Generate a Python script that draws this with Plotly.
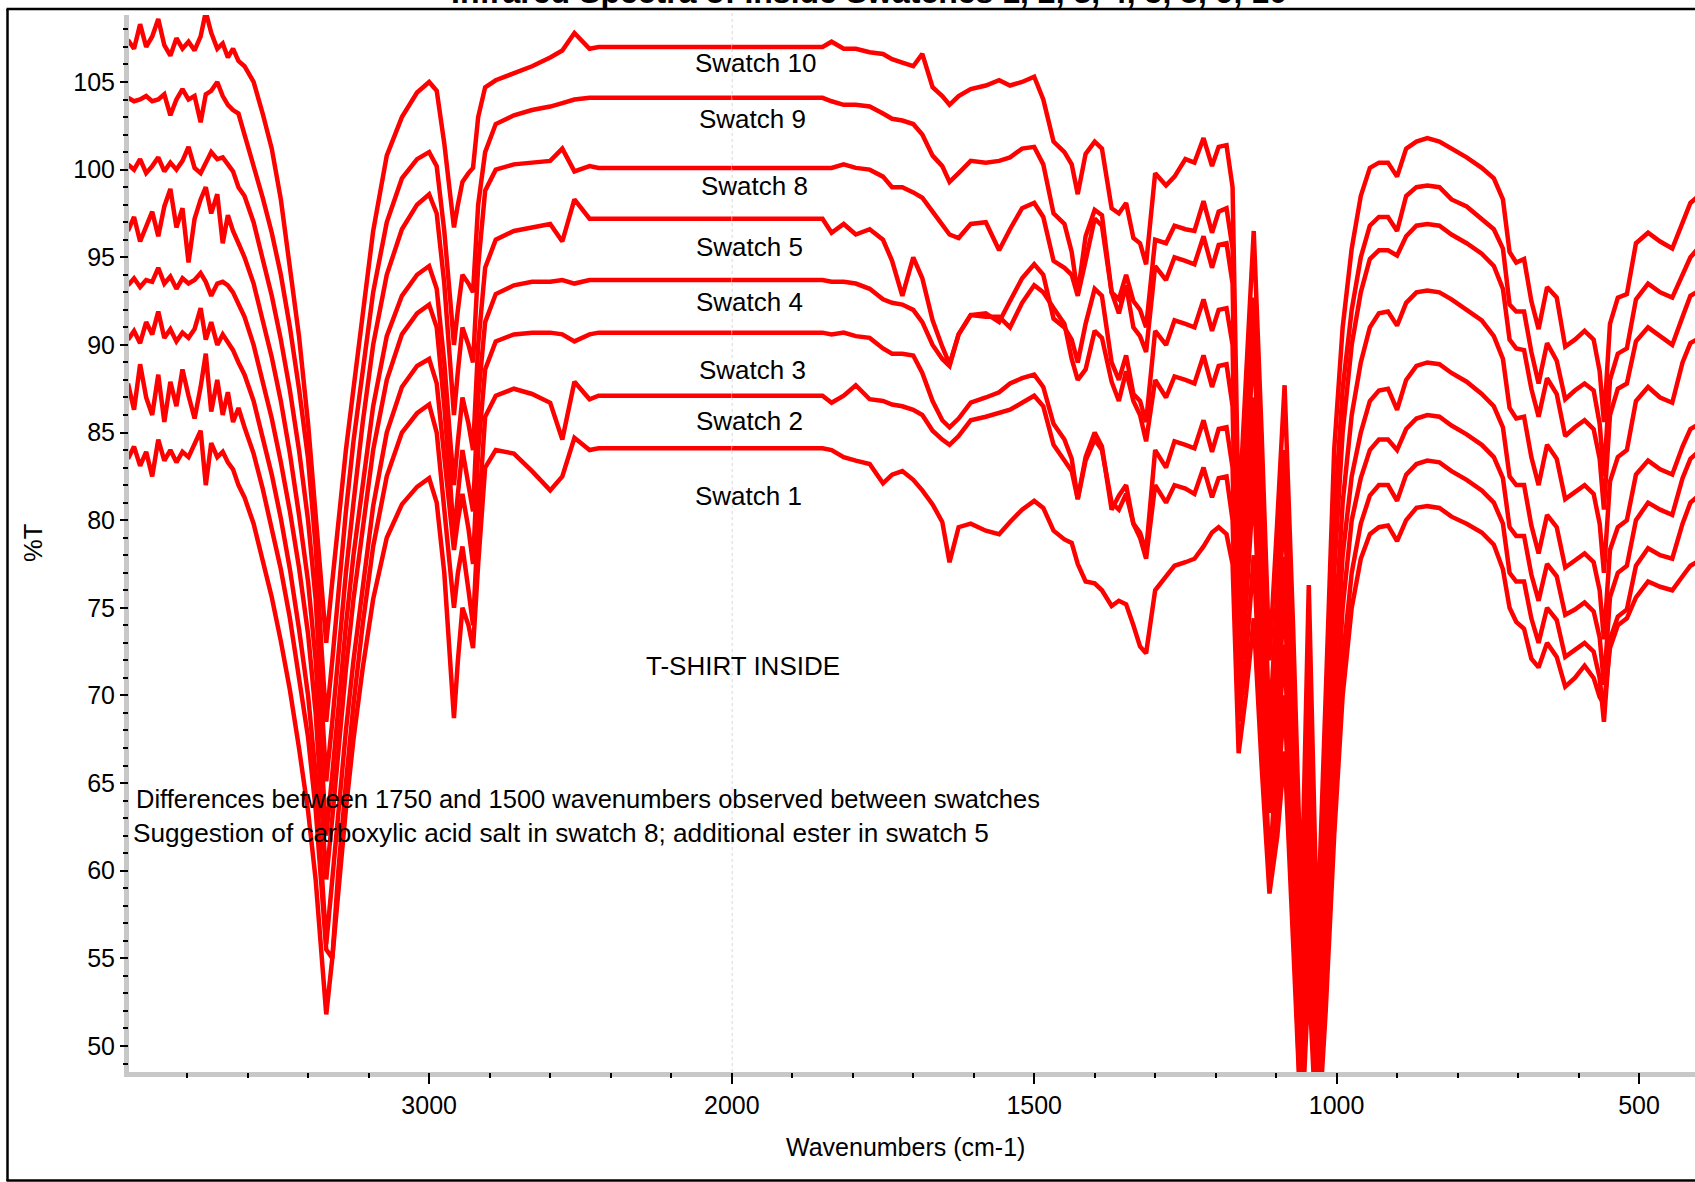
import plotly.graph_objects as go

# Shared wavenumber grid (cm-1), high to low
wavenumber = [
    3995, 3975, 3955, 3935, 3915, 3895, 3875, 3855, 3835, 3815,
    3795, 3775, 3755, 3738, 3720, 3700, 3682, 3665, 3648, 3630,
    3610, 3580, 3550, 3520, 3490, 3460, 3430, 3400, 3375, 3355,
    3340, 3320, 3300, 3275, 3250, 3220, 3185, 3140, 3090, 3040,
    3000, 2975, 2950, 2930, 2918, 2905, 2890, 2870, 2855, 2838,
    2815, 2780, 2720, 2660, 2600, 2560, 2520, 2470,
    2440, 2000, 1850,
    1835, 1815, 1795, 1772, 1750, 1735, 1718, 1700, 1685, 1668,
    1652, 1640, 1625, 1605, 1580, 1558, 1540, 1520, 1500, 1485,
    1468, 1450, 1438, 1428, 1415, 1400, 1388, 1372, 1360, 1348,
    1336, 1325, 1315, 1300, 1282, 1268,
    1250, 1235, 1220, 1206, 1195, 1182, 1172,
    1162, 1150, 1137, 1124, 1111, 1098, 1086, 1072, 1058, 1046,
    1032, 1018, 1004, 990, 975, 960, 945, 930, 915, 900,
    885, 868, 850, 830, 810, 785, 760, 740, 725, 714,
    703, 690, 678, 666, 652, 636, 622, 606, 590, 575,
    565, 558, 548, 535, 520, 505, 485, 465, 445, 428,
    415, 405,
]

swatch_10 = [
    107.4, 106.9, 108.3, 107.0, 107.6, 108.6, 107.1, 106.5, 107.5, 106.9,
    107.3, 106.8, 107.6, 109.0, 107.8, 106.9, 107.2, 106.4, 106.9, 106.2,
    105.9, 105.0, 103.2, 101.2, 98.3, 94.6, 90.5, 85.5, 80.0, 76.0,
    73.0, 76.5, 80.0, 84.0, 87.5, 91.5, 96.5, 100.8, 103.0, 104.4,
    105.0, 104.5, 101.5, 98.5, 96.7, 98.0, 99.3, 99.8, 100.1, 103.0,
    104.7, 105.1, 105.5, 105.9, 106.4, 106.8, 107.8, 106.9,
    107.0, 107.0, 107.0,
    107.3, 106.9, 106.9, 106.7, 106.6, 106.3, 106.1, 105.9, 106.6, 104.7,
    104.2, 103.7, 104.2, 104.6, 104.8, 105.1, 104.8, 105.0, 105.3, 104.0,
    101.6, 101.0, 100.3, 98.6, 100.9, 101.6, 101.2, 97.8, 97.5, 98.1,
    96.1, 95.8, 94.6, 99.8, 99.1, 99.6,
    100.6, 100.4, 101.8, 100.2, 101.3, 101.4, 99.0,
    80.0, 88.0, 96.5, 85.0, 72.0, 80.0, 87.7, 74.0, 58.0, 76.3,
    56.0, 70.0, 84.0, 91.0, 95.5, 98.5, 100.1, 100.4, 100.4, 99.6,
    101.2, 101.6, 101.8, 101.6, 101.2, 100.7, 100.1, 99.5, 98.3, 95.3,
    94.7, 94.9, 92.5, 90.9, 93.3, 92.7, 89.9, 90.3, 90.8, 90.3,
    88.5, 85.6, 91.2, 92.7, 92.9, 95.8, 96.4, 95.9, 95.5, 97.0,
    98.1, 98.4,
]

swatch_9 = [
    104.1, 103.9, 104.0, 104.2, 103.9, 104.0, 104.3, 103.1, 104.0, 104.6,
    104.0, 104.2, 102.7, 104.3, 104.5, 105.0, 104.2, 103.7, 103.4, 103.2,
    102.0, 100.3, 98.4, 96.4, 94.0, 91.0, 87.5, 83.5, 78.5, 72.5,
    68.5, 72.0, 76.0, 80.5, 84.5, 88.5, 93.0, 97.0, 99.5, 100.6,
    101.0, 100.2, 96.5, 92.5, 90.0, 92.0, 94.0, 93.5, 93.0, 98.0,
    101.0, 102.6, 103.1, 103.4, 103.6, 103.8, 104.0, 104.1,
    104.1, 104.1, 104.1,
    103.9, 103.7, 103.7, 103.6, 103.2, 102.9, 102.8, 102.6, 102.0, 100.8,
    100.2, 99.3, 99.8, 100.5, 100.4, 100.5, 100.7, 101.2, 101.3, 100.3,
    97.5, 96.9, 95.3, 92.9, 96.2, 97.7, 97.4, 93.0, 92.6, 94.0,
    92.5, 92.0, 91.0, 96.0, 95.8, 96.8,
    96.6, 96.5, 98.2, 96.4, 97.6, 97.8, 95.5,
    76.5, 84.0, 92.7, 81.0, 68.0, 76.0, 84.0, 70.0, 54.0, 72.0,
    52.0, 66.0, 80.0, 87.5, 92.0, 95.0, 96.8, 97.3, 97.3, 96.5,
    98.5, 99.0, 99.1, 99.0, 98.3, 97.9, 97.2, 96.6, 95.5, 92.3,
    91.9, 91.9, 89.6, 87.8, 90.1, 89.1, 86.9, 87.4, 87.8, 87.4,
    85.5, 82.5, 88.0, 89.5, 89.8, 92.6, 93.5, 93.0, 92.7, 94.0,
    95.0, 95.4,
]

swatch_8 = [
    100.3, 100.0, 100.6, 99.8, 100.2, 100.7, 99.9, 100.4, 100.0, 100.5,
    101.3, 100.1, 99.8, 100.4, 101.0, 100.6, 100.7, 100.3, 99.9, 99.0,
    98.5, 97.0, 95.0, 92.8, 90.3, 87.4, 84.0, 80.0, 75.5, 69.5,
    65.1, 68.5, 72.5, 77.0, 81.0, 85.5, 90.0, 94.0, 96.6, 98.0,
    98.6, 97.5, 93.5, 89.0, 86.0, 88.5, 91.0, 90.0, 89.0, 94.5,
    98.8, 100.0, 100.3, 100.4, 100.5, 101.2, 99.9, 100.2,
    100.1, 100.1, 100.1,
    100.1, 100.3, 100.1, 100.0, 99.6, 99.0, 99.0, 98.7, 98.4, 97.6,
    96.8, 96.3, 96.1, 96.9, 97.0, 95.4, 96.6, 97.8, 98.1, 97.3,
    94.8, 94.4, 94.0, 92.8, 94.8, 97.2, 96.8, 93.0, 91.8, 93.4,
    91.0, 90.5, 89.6, 94.5, 93.7, 95.0,
    94.8, 94.6, 96.2, 94.4, 95.7, 95.8, 93.5,
    74.5, 82.0, 90.5, 79.0, 66.0, 74.0, 81.0, 67.0, 52.0, 69.0,
    50.0, 63.0, 77.0, 85.0, 90.0, 93.0, 94.9, 95.4, 95.4, 95.1,
    96.2, 96.8, 96.9, 96.8, 96.3, 95.8, 95.2, 94.5, 93.2, 90.3,
    89.8, 89.7, 87.5, 85.9, 88.1, 87.2, 84.8, 85.3, 85.7, 85.2,
    83.5, 80.6, 86.0, 87.5, 87.8, 90.2, 91.0, 90.5, 90.0, 91.6,
    92.8, 93.0,
]

swatch_5 = [
    96.5, 97.3, 95.9, 96.8, 97.6, 96.2, 97.9, 98.9, 96.7, 97.8,
    94.7, 97.2, 98.3, 99.0, 97.5, 98.6, 95.8, 97.4, 96.5, 95.8,
    95.0, 93.5, 91.5, 89.3, 86.8, 83.8, 80.3, 76.5, 72.0, 66.5,
    62.0, 65.5, 69.5, 74.0, 78.0, 82.0, 86.5, 90.5, 92.8, 94.0,
    94.5, 93.2, 89.0, 84.5, 82.0, 84.5, 87.0, 85.5, 84.0, 90.0,
    94.4, 96.0, 96.5, 96.7, 96.9, 95.9, 98.3, 97.2,
    97.2, 97.2, 97.2,
    96.4, 96.9, 96.3, 96.6, 96.0, 94.8, 92.8, 95.0, 93.8, 91.4,
    89.9, 88.9, 90.6, 91.7, 91.8, 91.3, 92.5, 93.8, 94.6, 94.0,
    91.5, 91.0, 90.3, 89.0, 91.2, 93.2, 92.8, 89.0, 88.0, 89.4,
    87.2, 86.8, 85.6, 90.8, 90.0, 91.4,
    91.2, 91.0, 92.6, 90.8, 92.0, 92.1, 90.0,
    72.5, 79.0, 87.0, 76.0, 64.0, 71.0, 77.9, 64.0, 49.0, 66.0,
    47.0, 60.0, 73.0, 81.0, 86.0, 89.0, 91.0, 91.8, 91.9, 91.1,
    92.4, 93.0, 93.1, 93.0, 92.6, 92.0, 91.4, 90.5, 89.2, 86.4,
    85.8, 85.9, 83.6, 82.0, 84.3, 83.5, 81.2, 81.6, 82.0, 81.5,
    79.8, 77.0, 82.2, 83.6, 84.0, 86.8, 87.6, 87.0, 86.7, 89.0,
    90.1, 90.3,
]

swatch_4 = [
    93.4, 93.8, 93.3, 93.7, 93.6, 94.4, 93.5, 93.9, 93.2, 93.8,
    93.5, 93.7, 94.1, 93.6, 92.8, 93.5, 93.6, 93.4, 93.0, 92.4,
    91.6, 90.0, 88.0, 85.8, 83.3, 80.5, 77.3, 73.5, 69.0, 63.5,
    59.5, 63.0, 67.0, 71.5, 75.5, 79.5, 84.0, 88.0, 90.6, 91.8,
    92.3, 91.0, 86.5, 82.0, 79.0, 81.5, 84.0, 82.0, 80.5, 87.0,
    91.3, 92.9, 93.4, 93.6, 93.6, 93.7, 93.5, 93.7,
    93.7, 93.7, 93.7,
    93.6, 93.6, 93.5, 93.2, 92.6, 92.4, 92.3, 92.0, 91.3, 90.0,
    89.2, 88.8, 90.6, 91.7, 91.6, 91.6, 91.0, 92.4, 93.4, 93.0,
    92.1, 91.2, 89.2, 88.0, 88.6, 90.8, 90.4, 87.9, 86.8, 88.5,
    86.8, 86.0, 84.5, 88.0, 87.0, 88.2,
    88.0, 87.8, 89.4, 87.6, 88.8, 88.9, 86.5,
    71.0, 77.0, 84.5, 74.0, 63.3, 69.0, 76.0, 62.0, 47.0, 63.0,
    46.0, 58.0, 70.0, 78.0, 82.5, 85.0, 86.8, 87.4, 87.5, 86.3,
    88.0, 88.8, 89.0, 88.9, 88.4, 87.9, 87.2, 86.5, 85.3, 82.5,
    82.0, 82.0, 79.7, 78.1, 80.3, 79.6, 77.3, 77.7, 78.1, 77.6,
    76.0, 73.2, 78.3, 79.6, 80.0, 82.6, 83.4, 82.9, 82.6, 84.2,
    85.2, 85.4,
]

swatch_3 = [
    90.3, 90.8, 90.1, 91.3, 90.6, 91.9, 90.4, 90.9, 90.2, 90.7,
    90.4, 90.9, 92.1, 90.3, 91.3, 90.0, 90.6, 90.2, 89.7, 89.0,
    88.3, 86.8, 84.8, 82.6, 80.1, 77.2, 73.8, 70.0, 65.5, 60.0,
    55.8, 59.5, 63.5, 68.0, 72.0, 76.3, 80.8, 85.0, 87.6, 88.8,
    89.2, 87.8, 83.5, 80.5, 78.3, 80.0, 81.5, 79.5, 77.5, 84.0,
    88.6, 90.2, 90.6, 90.7, 90.7, 90.6, 90.2, 90.6,
    90.7, 90.7, 90.7,
    90.6, 90.7, 90.5, 90.4, 89.8, 89.5, 89.5, 89.4, 88.4, 86.8,
    85.7, 85.3, 85.8, 86.7, 87.0, 87.3, 87.8, 88.1, 88.3, 87.6,
    85.5, 84.6, 83.5, 81.2, 83.6, 85.0, 84.2, 80.6, 81.4, 82.0,
    79.8, 79.3, 78.2, 84.0, 83.0, 84.5,
    84.3, 84.1, 85.7, 83.9, 85.2, 85.3, 83.0,
    69.0, 75.0, 82.3, 71.0, 60.0, 67.0, 72.9, 60.0, 46.0, 60.0,
    45.0, 56.0, 67.0, 75.0, 80.0, 82.4, 84.0, 84.6, 84.6, 84.0,
    85.2, 85.8, 86.0, 85.9, 85.4, 84.9, 84.3, 83.6, 82.4, 79.6,
    79.1, 79.1, 76.9, 75.4, 77.5, 76.8, 74.6, 74.9, 75.3, 74.8,
    73.3, 70.6, 75.6, 77.0, 77.4, 80.0, 81.0, 80.6, 80.3, 82.4,
    83.5, 83.8,
]

swatch_2 = [
    87.8, 86.3, 88.9, 87.0, 86.0, 88.3, 85.6, 87.9, 86.5, 88.6,
    87.1, 85.8, 87.6, 89.5, 86.2, 88.0, 86.0, 87.3, 85.6, 86.4,
    85.3, 83.8, 81.8, 79.6, 77.2, 74.4, 71.2, 67.6, 63.5, 58.5,
    55.5, 55.0, 60.0, 65.0, 69.5, 74.0, 78.5, 82.5, 85.0, 86.1,
    86.6, 85.0, 80.5, 77.5, 75.0, 77.0, 78.5, 76.0, 74.0, 80.0,
    85.9, 87.1, 87.5, 87.2, 86.7, 84.6, 87.9, 86.9,
    87.1, 87.1, 87.1,
    86.7, 87.1, 87.7, 86.9, 86.8, 86.6, 86.5, 86.3, 86.0, 85.1,
    84.6, 84.3, 84.8, 85.7, 85.9, 86.1, 86.3, 86.7, 87.1, 86.5,
    84.3, 83.4, 82.8, 81.2, 83.4, 84.6, 84.0, 81.0, 80.6, 81.5,
    79.8, 79.0, 77.8, 82.0, 81.0, 82.0,
    81.8, 81.5, 83.0, 81.3, 82.4, 82.5, 80.0,
    68.5, 72.0, 78.0, 68.0, 60.0, 64.0, 70.0, 58.0, 45.0, 57.0,
    44.0, 54.0, 64.0, 72.0, 77.0, 79.8, 81.4, 82.0, 82.0, 81.1,
    82.6, 83.2, 83.4, 83.3, 82.8, 82.3, 81.7, 81.0, 79.8, 77.0,
    76.5, 76.5, 74.4, 73.0, 75.0, 74.3, 72.2, 72.6, 73.0, 72.5,
    71.0, 68.5, 73.2, 74.5, 74.9, 77.4, 78.4, 78.0, 77.8, 79.8,
    81.0, 81.3,
]

swatch_1 = [
    83.5, 84.2, 83.1, 83.9, 82.5, 84.6, 83.4, 84.0, 83.3, 83.9,
    83.6, 84.3, 85.1, 82.0, 84.4, 83.6, 83.9, 83.3, 82.9, 82.0,
    81.3, 79.8, 77.8, 75.6, 73.1, 70.3, 67.0, 63.4, 59.5, 55.0,
    51.8, 55.0, 59.0, 63.5, 67.5, 71.5, 75.5, 79.0, 80.9, 81.9,
    82.4, 81.0, 77.0, 72.0, 68.7, 72.0, 75.0, 74.0, 72.7, 77.5,
    83.0, 84.0, 83.8, 82.8, 81.7, 82.5, 84.7, 84.0,
    84.1, 84.1, 84.1,
    84.0, 83.6, 83.4, 83.2, 82.1, 82.6, 82.8, 82.3, 81.7, 80.9,
    79.9, 77.6, 79.6, 79.8, 79.4, 79.2, 79.9, 80.6, 81.1, 80.7,
    79.4, 78.9, 78.7, 77.5, 76.5, 76.4, 76.0, 75.1, 75.4, 75.2,
    74.0, 72.8, 72.4, 76.0, 76.8, 77.4,
    77.6, 77.8, 78.5, 79.3, 79.6, 79.2, 77.5,
    66.7, 70.0, 74.4, 66.0, 58.7, 62.0, 66.8, 56.0, 45.0, 54.0,
    44.0, 52.0, 62.0, 70.0, 75.0, 77.8, 79.2, 79.6, 79.7, 78.8,
    80.0, 80.7, 80.8, 80.7, 80.2, 79.8, 79.3, 78.6, 77.2, 75.0,
    74.2, 73.8, 72.1, 71.6, 73.0, 72.2, 70.5, 71.0, 71.7, 71.0,
    69.9, 69.5, 72.7, 74.0, 74.4, 75.6, 76.5, 76.2, 76.0, 76.8,
    77.4, 77.6,
]

series_names = ["Swatch 10", "Swatch 9", "Swatch 8", "Swatch 5",
                "Swatch 4", "Swatch 3", "Swatch 2", "Swatch 1"]
series_values = [swatch_10, swatch_9, swatch_8, swatch_5,
                 swatch_4, swatch_3, swatch_2, swatch_1]

y_ticks = [50, 55, 60, 65, 70, 75, 80, 85, 90, 95, 100, 105]
x_ticks_high = [3000]
x_ticks_low = [2000, 1500, 1000, 500]

for vals in series_values:
    assert len(vals) == len(wavenumber), len(vals)

# ---- page geometry (pixels) ----
W_PX, H_PX = 1695, 1182
M_L, M_R, M_T, M_B = 129, 0, 15, 110
PLOT_W = W_PX - M_L - M_R
PLOT_H = H_PX - M_T - M_B


def px_x(p):
    return (p - M_L) / PLOT_W


def px_y(p):
    return (H_PX - M_B - p) / PLOT_H


SPLIT = px_x(731.8)           # where 2000 cm-1 sits; scale doubles below it
RED = "#ff0000"
FONT = "Liberation Sans, Arial, sans-serif"

fig = go.Figure()
for name, vals in zip(series_names, series_values):
    hi = [(w, v) for w, v in zip(wavenumber, vals) if w >= 2000]
    lo = [(w, v) for w, v in zip(wavenumber, vals) if w <= 2000]
    for pts, xa in ((hi, "x"), (lo, "x2")):
        fig.add_trace(go.Scatter(
            x=[p[0] for p in pts], y=[p[1] for p in pts],
            xaxis=xa, yaxis="y", mode="lines", name=name,
            line=dict(color=RED, width=4.5), showlegend=False,
            hoverinfo="skip"))

tick_font = dict(family=FONT, size=25, color="black")
common_x = dict(ticks="outside", ticklen=11, tickwidth=1.5, tickcolor="black",
                showgrid=False, zeroline=False, showline=False,
                tickfont=tick_font, anchor="y", fixedrange=True,
                ticklabelstandoff=0)

fig.update_layout(
    width=W_PX, height=H_PX,
    margin=dict(l=M_L, r=M_R, t=M_T, b=M_B, pad=0),
    paper_bgcolor="white", plot_bgcolor="white",
    showlegend=False,
    xaxis=dict(domain=[0, SPLIT], range=[3991.7, 2000],
               tickmode="array", tickvals=x_ticks_high,
               ticktext=[str(t) for t in x_ticks_high],
               minor=dict(tickmode="array",
                          tickvals=[3800, 3600, 3400, 3200, 2800, 2600, 2400, 2200],
                          ticks="outside", ticklen=5, tickwidth=1.5,
                          tickcolor="black"),
               **common_x),
    xaxis2=dict(domain=[SPLIT, 1], range=[2000, 407.4],
                tickmode="array", tickvals=x_ticks_low,
                ticktext=[str(t) for t in x_ticks_low],
                minor=dict(tickmode="array",
                           tickvals=[w for w in range(1900, 400, -100) if w % 500],
                           ticks="outside", ticklen=5, tickwidth=1.5,
                           tickcolor="black"),
                **common_x),
    yaxis=dict(domain=[0, 1], range=[48.515, 108.823], anchor="x",
               tickmode="array", tickvals=y_ticks,
               ticktext=[str(t) for t in y_ticks],
               ticks="outside", ticklen=8, tickwidth=1.5, tickcolor="black",
               minor=dict(dtick=1, tick0=0, ticks="outside", ticklen=5,
                          tickwidth=1.5, tickcolor="black"),
               showgrid=False, zeroline=False, showline=False,
               tickfont=tick_font, fixedrange=True),
)

shapes = [
    # grey axis bands
    dict(type="rect", xref="paper", yref="paper", layer="below",
         x0=px_x(124), x1=px_x(129), y0=px_y(1077), y1=1,
         fillcolor="#c8c8c8", line=dict(width=0)),
    dict(type="rect", xref="paper", yref="paper", layer="below",
         x0=px_x(124), x1=1, y0=px_y(1077), y1=0,
         fillcolor="#c8c8c8", line=dict(width=0)),
    # dotted marker at 2000 cm-1
    dict(type="line", xref="x2", yref="paper", x0=2000, x1=2000,
         y0=0, y1=px_y(13), layer="above",
         line=dict(color="#a8a8a8", width=1, dash="dot")),
    # outer frame
    dict(type="line", xref="paper", yref="paper", x0=px_x(6.5), x1=px_x(1700),
         y0=px_y(9), y1=px_y(9), line=dict(color="black", width=2.5)),
    dict(type="line", xref="paper", yref="paper", x0=px_x(7.5), x1=px_x(7.5),
         y0=px_y(9), y1=px_y(1181), line=dict(color="black", width=2.5)),
    dict(type="line", xref="paper", yref="paper", x0=px_x(6.5), x1=px_x(1700),
         y0=px_y(1180.5), y1=px_y(1180.5), line=dict(color="black", width=2.5)),
]
fig.update_layout(shapes=shapes)

label_pos = {
    "Swatch 10": (755, 62.5), "Swatch 9": (752, 119.5), "Swatch 8": (754.5, 186),
    "Swatch 5": (749.5, 246.5), "Swatch 4": (749.5, 302), "Swatch 3": (752, 369.5),
    "Swatch 2": (749.5, 421), "Swatch 1": (748, 496),
}
ann = []
for name in series_names:
    px, py = label_pos[name]
    ann.append(dict(text=name, x=px_x(px), y=px_y(py), xref="paper", yref="paper",
                    xanchor="center", yanchor="middle", showarrow=False,
                    font=dict(family=FONT, size=26, color="black")))

ann += [
    dict(text="T-SHIRT INSIDE", x=px_x(743), y=px_y(665.5), xref="paper", yref="paper",
         xanchor="center", yanchor="middle", showarrow=False,
         font=dict(family=FONT, size=26, color="black")),
    dict(text="Differences between 1750 and 1500 wavenumbers observed between swatches",
         x=px_x(134), y=px_y(799), xref="paper", yref="paper",
         xanchor="left", yanchor="middle", showarrow=False,
         font=dict(family=FONT, size=25.5, color="black")),
    dict(text="Suggestion of carboxylic acid salt in swatch 8; additional ester in swatch 5",
         x=px_x(131), y=px_y(832.5), xref="paper", yref="paper",
         xanchor="left", yanchor="middle", showarrow=False,
         font=dict(family=FONT, size=26.2, color="black")),
    dict(text="%T", x=px_x(33), y=px_y(543), xref="paper", yref="paper",
         xanchor="center", yanchor="middle", showarrow=False, textangle=-90,
         font=dict(family=FONT, size=25.5, color="black")),
    dict(text="Wavenumbers (cm-1)", x=px_x(905), y=px_y(1147), xref="paper", yref="paper",
         xanchor="center", yanchor="middle", showarrow=False,
         font=dict(family=FONT, size=25, color="black")),
    dict(text="<b>Infrared Spectra of Inside Swatches 1, 2, 3, 4, 5, 8, 9, 10</b>",
         x=px_x(869), y=px_y(12), xref="paper", yref="paper",
         xanchor="center", yanchor="bottom", showarrow=False,
         font=dict(family=FONT, size=32, color="black")),
]
fig.update_layout(annotations=ann)

fig.write_html("out.html")
